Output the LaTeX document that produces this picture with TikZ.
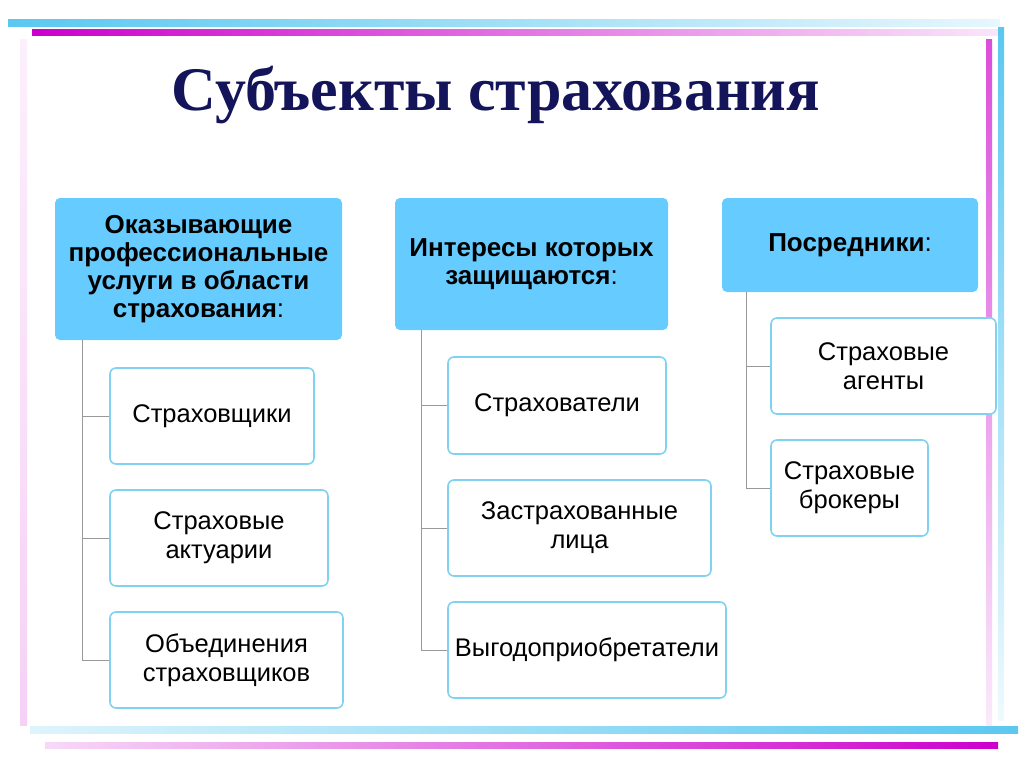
\documentclass[tikz,border=0pt]{standalone}
\usepackage{fontspec}
\setmainfont{Liberation Sans}
\newfontfamily\titlefont{Liberation Serif}
\definecolor{headblue}{HTML}{66CCFF}
\definecolor{edgeblue}{HTML}{7FD3F0}
\definecolor{barcyan}{HTML}{5BC8F0}
\definecolor{barpink}{HTML}{CC00CC}
\definecolor{titlenavy}{HTML}{14145A}
\tikzset{
  headbox/.style={draw=none,fill=headblue,rounded corners=5pt,align=center,font=\bfseries\fontsize{26}{28}\selectfont},
  itembox/.style={draw=edgeblue,line width=1.6pt,fill=white,rounded corners=6pt,align=center,font=\fontsize{25.5}{29}\selectfont},
  tree/.style={draw=gray!80,line width=1pt}
}
\begin{document}
\begin{tikzpicture}[x=1pt,y=-1pt]
		\useasboundingbox (0,0) rectangle (1024,768);
		% frame bars
		\shade [left color=barcyan,right color=barcyan!15] (8,20) rectangle (1000,27);
		\shade [left color=barpink,right color=barpink!10] (32,30) rectangle (1000,36);
		\shade [top color=barpink!6,bottom color=barpink!18] (20,40) rectangle (27,725);
		\shade [top color=barpink!70,bottom color=barpink!8] (986,40) rectangle (992,725);
		\shade [top color=barcyan,bottom color=barcyan!10] (998,28) rectangle (1004,720);
		\shade [left color=barcyan!20,right color=barcyan] (30,726) rectangle (1018,733);
		\shade [left color=barpink!15,right color=barpink] (45,742) rectangle (998,748);
		% title
		\node (title) at (496,95) {\titlefont\bfseries\color{titlenavy}\fontsize{62}{70}\selectfont Субъекты страхования};
		% headers
		\node [headbox,minimum width=287,minimum height=142] (prof) at (198.5,269) {Оказывающие\\профессиональные\\услуги в области\\страхования\textmd{:}};
		\node [headbox,minimum width=273,minimum height=132] (prot) at (531.5,264) {Интересы которых\\защищаются\textmd{:}};
		\node [headbox,minimum width=256,minimum height=94] (medi) at (850,245) {Посредники\textmd{:}};
		% column 1
		\node [itembox,minimum width=204,minimum height=96] (insr) at (212,416) {Страховщики};
		\node [itembox,minimum width=218,minimum height=96] (actu) at (219,538) {Страховые\\актуарии};
		\node [itembox,minimum width=233,minimum height=96] (unio) at (226.5,660) {Объединения\\страховщиков};
		% column 2
		\node [itembox,minimum width=218,minimum height=97] (hold) at (557,405.5) {Страхователи};
		\node [itembox,minimum width=263,minimum height=96] (insd) at (579.5,528) {Застрахованные\\лица};
		\node [itembox,minimum width=278,minimum height=96] (bene) at (587,650) {Выгодоприобретатели};
		% column 3
		\node [itembox,minimum width=225,minimum height=96] (agnt) at (883.5,366) {Страховые\\агенты};
		\node [itembox,minimum width=157,minimum height=96] (brok) at (849.5,488) {Страховые\\брокеры};
		% tree lines
		\coordinate (t1) at (82,340);
		\coordinate (t2) at (421,330);
		\coordinate (t3) at (746,292);
		\draw [tree] (t1) |- (unio.west);
		\draw [tree] (t1 |- insr) -- (insr.west);
		\draw [tree] (t1 |- actu) -- (actu.west);
		\draw [tree] (t2) |- (bene.west);
		\draw [tree] (t2 |- hold) -- (hold.west);
		\draw [tree] (t2 |- insd) -- (insd.west);
		\draw [tree] (t3) |- (brok.west);
		\draw [tree] (t3 |- agnt) -- (agnt.west);
	\end{tikzpicture}
\end{document}
